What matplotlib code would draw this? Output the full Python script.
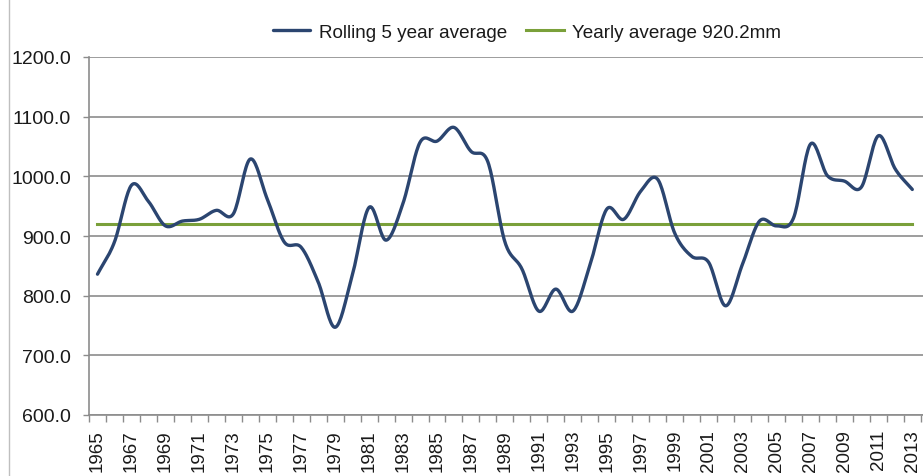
import numpy as np
import matplotlib
matplotlib.use("Agg")
import matplotlib.pyplot as plt
from matplotlib.lines import Line2D

plt.rcParams["font.family"] = ["Liberation Sans", "DejaVu Sans"]

# data
years = list(range(1965, 2014))
rolling = [836, 890, 985, 958, 917, 925, 928, 943, 937, 1029,
           962, 890, 881, 823, 747, 833, 948, 893, 955, 1057,
           1059, 1082, 1042, 1024, 890, 845, 774, 811, 774, 850,
           945, 928, 975, 995, 905, 866, 856, 783, 853, 925,
           917, 930, 1054, 1001, 992, 982, 1068, 1012, 978]
yearly_avg = 920.2
tick_years = years[::2]


def smooth(x, y, n=20):
    # catmull-rom curve through the points, like Excel's smoothed line
    x = np.asarray(x, float)
    y = np.asarray(y, float)
    px = np.concatenate([[2 * x[0] - x[1]], x, [2 * x[-1] - x[-2]]])
    py = np.concatenate([[2 * y[0] - y[1]], y, [2 * y[-1] - y[-2]]])
    xs, ys = [], []
    t = np.linspace(0, 1, n, endpoint=False)
    for i in range(1, len(px) - 2):
        for p, out in ((px, xs), (py, ys)):
            p0, p1, p2, p3 = p[i - 1], p[i], p[i + 1], p[i + 2]
            out.extend(0.5 * (2 * p1 + (-p0 + p2) * t
                              + (2 * p0 - 5 * p1 + 4 * p2 - p3) * t ** 2
                              + (-p0 + 3 * p1 - 3 * p2 + p3) * t ** 3))
    xs.append(x[-1])
    ys.append(y[-1])
    return np.array(xs), np.array(ys)


fig = plt.figure(figsize=(9.23, 4.77), dpi=100)
ax = fig.add_axes([89 / 923, 61 / 477, 834 / 923, 358 / 477])

idx = np.arange(len(years))
sx, sy = smooth(idx, rolling)
navy = "#2b4570"
green = "#7aa03a"
grid = "#8c8c8c"

ax.plot(sx, sy, color=navy, lw=2.4, solid_capstyle="round",
        label="Rolling 5 year average", zorder=3)
ax.plot([idx[0], idx[-1]], [yearly_avg, yearly_avg], color=green, lw=2.2,
        label="Yearly average 920.2mm", zorder=2)

ax.set_ylim(600, 1200)
ax.set_xlim(-0.5, 48.63)
ax.set_yticks(np.arange(600, 1201, 100))
ax.set_yticklabels([f"{v:.1f}" for v in range(600, 1201, 100)])
ax.yaxis.grid(True, color=grid, lw=1.2)
ax.set_axisbelow(True)

ax.set_xticks([years.index(y) for y in tick_years])
ax.set_xticklabels([str(y) for y in tick_years], rotation=90)
ax.set_xticks(np.arange(-0.5, len(years)), minor=True)
ax.tick_params(axis="x", which="major", length=0, pad=10, labelsize=13.5,
               labelcolor="#1a1a1a")
ax.tick_params(axis="x", which="minor", length=5, width=1, color=grid)
ax.tick_params(axis="y", length=4.5, width=1, color=grid, pad=8.5,
               labelsize=14, labelcolor="#1a1a1a")

for s in ("top", "right"):
    ax.spines[s].set_visible(False)
for s in ("left", "bottom"):
    ax.spines[s].set_color(grid)
    ax.spines[s].set_linewidth(1.2)

fig.legend(loc="center", bbox_to_anchor=(527 / 923, 1 - 33 / 477), ncol=2,
           frameon=False, fontsize=13.6, handlelength=2.0, handletextpad=0.45,
           columnspacing=1.0, labelcolor="#1a1a1a")

# chart area border on the left
fig.add_artist(Line2D([8.5 / 923, 8.5 / 923], [0, 1], color="#bfbfbf", lw=1.0))

fig.savefig("out.png", dpi=100)
